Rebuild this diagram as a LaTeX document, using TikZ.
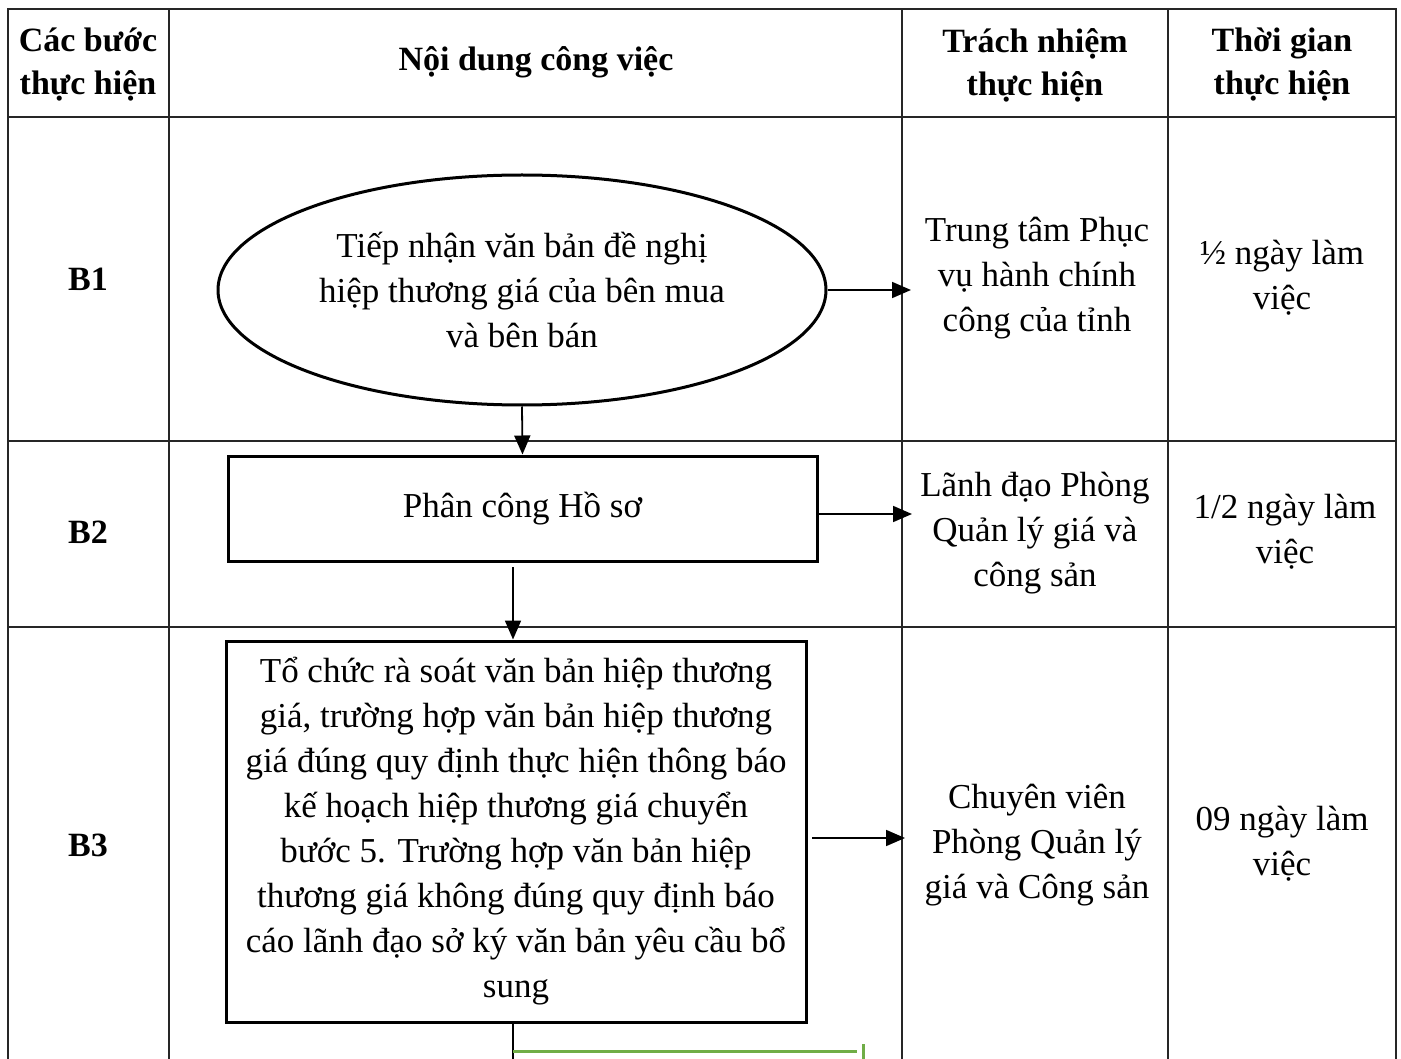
\documentclass[tikz,border=0pt]{standalone}
\usepackage{fontspec}
\setmainfont{Liberation Serif}
\usetikzlibrary{arrows.meta,shapes.geometric}
\definecolor{lgreen}{RGB}{112,173,71}
\tikzset{
  grid/.style={line width=1.6pt, black!85},
  hd/.style={font=\bfseries\fontsize{34}{43}\selectfont, align=center, inner sep=0pt},
  txt/.style={font=\fontsize{35}{45}\selectfont, align=center, inner sep=0pt},
  boxtxt/.style={font=\fontsize{35}{45}\selectfont, align=center},
  stepbox/.style={draw, line width=3pt, inner sep=0pt},
  arr/.style={line width=1.8pt, -{Triangle[length=19pt,width=16pt]}},
  gline/.style={line width=3pt, lgreen}
}
\begin{document}
\begin{tikzpicture}[x=1pt,y=-1pt]
\useasboundingbox (0,0) rectangle (1401,1059);
% table grid
\draw[grid] (8,1059) -- (8,9) -- (1396,9) -- (1396,1059);
\draw[grid] (169,9) -- (169,1059);
\draw[grid] (902,9) -- (902,1059);
\draw[grid] (1168,9) -- (1168,1059);
\draw[grid] (8,117) -- (1396,117);
\draw[grid] (8,441) -- (1396,441);
\draw[grid] (8,627) -- (1396,627);
% header
\node[hd] (h1) at (88,65) {Các bước\\thực hiện};
\node[hd] (h2) at (536,62) {Nội dung công việc};
\node[hd] (h3) at (1035,65) {Trách nhiệm\\thực hiện};
\node[hd] (h4) at (1282,65) {Thời gian\\thực hiện};
% step labels
\node[hd] (s1) at (88,279) {B1};
\node[hd] (s2) at (88,532) {B2};
\node[hd] (s3) at (88,845) {B3};
% flow shapes
\node[ellipse, draw, line width=3pt, minimum width=608pt, minimum height=230pt, txt] (ell) at (522,290) {Tiếp nhận văn bản đề nghị\\hiệp thương giá của bên mua\\và bên bán};
\node[stepbox, minimum width=589pt, minimum height=105pt, txt] (b2) at (522.5,508.5) {Phân công Hồ sơ};
\node[stepbox, minimum width=580pt, minimum height=381pt, boxtxt] (b3) at (516,831.5) {Tổ chức rà soát văn bản hiệp thương\\giá, trường hợp văn bản hiệp thương\\giá đúng quy định thực hiện thông báo\\kế hoạch hiệp thương giá chuyển\\bước 5. Trường hợp văn bản hiệp\\thương giá không đúng quy định báo\\cáo lãnh đạo sở ký văn bản yêu cầu bổ\\sung};
% responsibility
\node[txt] (r1) at (1037,278) {Trung tâm Phục\\vụ hành chính\\công của tỉnh};
\node[txt] (r2) at (1035,533) {Lãnh đạo Phòng\\Quản lý giá và\\công sản};
\node[txt] (r3) at (1037,845) {Chuyên viên\\Phòng Quản lý\\giá và Công sản};
% time
\node[txt] (t1) at (1282,278) {½ ngày làm\\việc};
\node[txt] (t2) at (1285,532) {1/2 ngày làm\\việc};
\node[txt] (t3) at (1282,844) {09 ngày làm\\việc};
% connectors
\coordinate (e1) at (911,290);
\coordinate (e2) at (912,514);
\coordinate (q3) at (812,838);
\coordinate (e3) at (905,838);
\coordinate (q2) at (513,567);
\coordinate (d3) at (513,1059);
\coordinate (g1) at (513,1051);
\coordinate (g2) at (857,1051);
\coordinate (g3) at (863,1044);
\coordinate (g4) at (863,1059);
\draw[arr] (ell.east) -- (e1);
\draw[arr] (ell.south) -- (b2.north);
\draw[arr] (b2.east |- e2) -- (e2);
\draw[arr] (q2) -- (q2 |- b3.north);
\draw[arr] (q3) -- (e3);
\draw[line width=1.8pt] (b3.south -| d3) -- (d3);
\draw[gline] (g1) -- (g2);
\draw[gline] (g3) -- (g4);
\end{tikzpicture}
\end{document}
